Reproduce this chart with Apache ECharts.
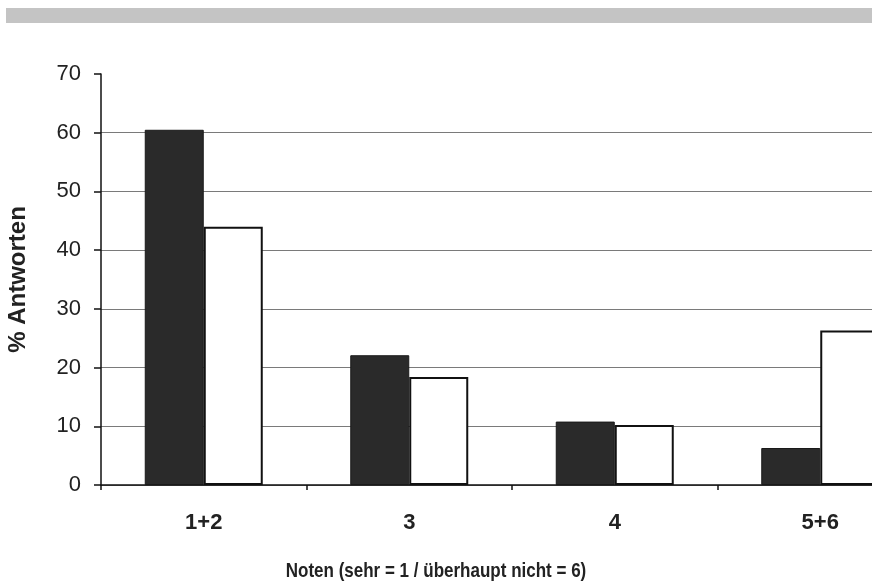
<!DOCTYPE html>
<html>
<head>
<meta charset="utf-8">
<script src="https://cdn.jsdelivr.net/npm/echarts@6/dist/echarts.min.js"></script>
<style>
html,body{margin:0;padding:0;background:#fff;}
#c{width:872px;height:583px;}
</style>
</head>
<body>
<div id="c"></div>
<script>
const categories = ['1+2', '3', '4', '5+6'];
const seriesDark = [60.5, 22.1, 10.8, 6.3];
const seriesWhite = [44.0, 18.4, 10.2, 26.3];
const yTicks = [0, 10, 20, 30, 40, 50, 60, 70];

const chart = echarts.init(document.getElementById('c'), null, {renderer: 'canvas'});
const font = '"Liberation Sans", Arial, sans-serif';
const gridColors = yTicks.map((v, i) => i === yTicks.length - 1 ? 'rgba(0,0,0,0)' : '#7a7a7a');

chart.setOption({
  animation: false,
  backgroundColor: '#ffffff',
  grid: {left: 101, top: 74, width: 822, height: 411, containLabel: false, outerBoundsMode: 'none'},
  xAxis: {
    type: 'category',
    data: categories,
    boundaryGap: true,
    axisLine: {show: true, lineStyle: {color: '#111', width: 1.5}},
    axisTick: {show: true, alignWithLabel: false, length: 5, lineStyle: {color: '#111', width: 1.5}},
    axisLabel: {margin: 27, color: '#222', fontFamily: font, fontWeight: 'bold', fontSize: 22},
    splitLine: {show: false}
  },
  yAxis: {
    type: 'value',
    min: 0, max: 70, interval: 10,
    name: '% Antworten',
    nameLocation: 'middle',
    nameRotate: 90,
    nameGap: 71,
    nameTextStyle: {color: '#222', fontFamily: font, fontWeight: 'bold', fontSize: 24},
    axisLine: {show: true, lineStyle: {color: '#111', width: 1.5}},
    axisTick: {show: true, length: 7, lineStyle: {color: '#111', width: 1.5}},
    axisLabel: {margin: 20, color: '#222', fontFamily: font, fontSize: 22},
    splitLine: {show: true, lineStyle: {color: gridColors, width: 1.2}}
  },
  series: [
    {
      type: 'bar', data: seriesDark, barWidth: 59, barGap: '0%',
      itemStyle: {color: '#2a2a2a', borderColor: '#1a1a1a', borderWidth: 1}
    },
    {
      type: 'bar', data: seriesWhite, barWidth: 59, barGap: '0%',
      itemStyle: {color: '#ffffff', borderColor: '#111', borderWidth: 2}
    }
  ],
  graphic: [
    {type: 'rect', shape: {x: 6, y: 8, width: 866, height: 15}, style: {fill: '#c4c4c4'}, silent: true},
    {type: 'text', x: 436, y: 571, scaleX: 0.81, style: {text: 'Noten (sehr = 1 / überhaupt nicht = 6)', fontFamily: font, fontWeight: 'bold', fontSize: 21, fill: '#222', textAlign: 'center', textVerticalAlign: 'middle'}}
  ]
});
</script>
</body>
</html>
